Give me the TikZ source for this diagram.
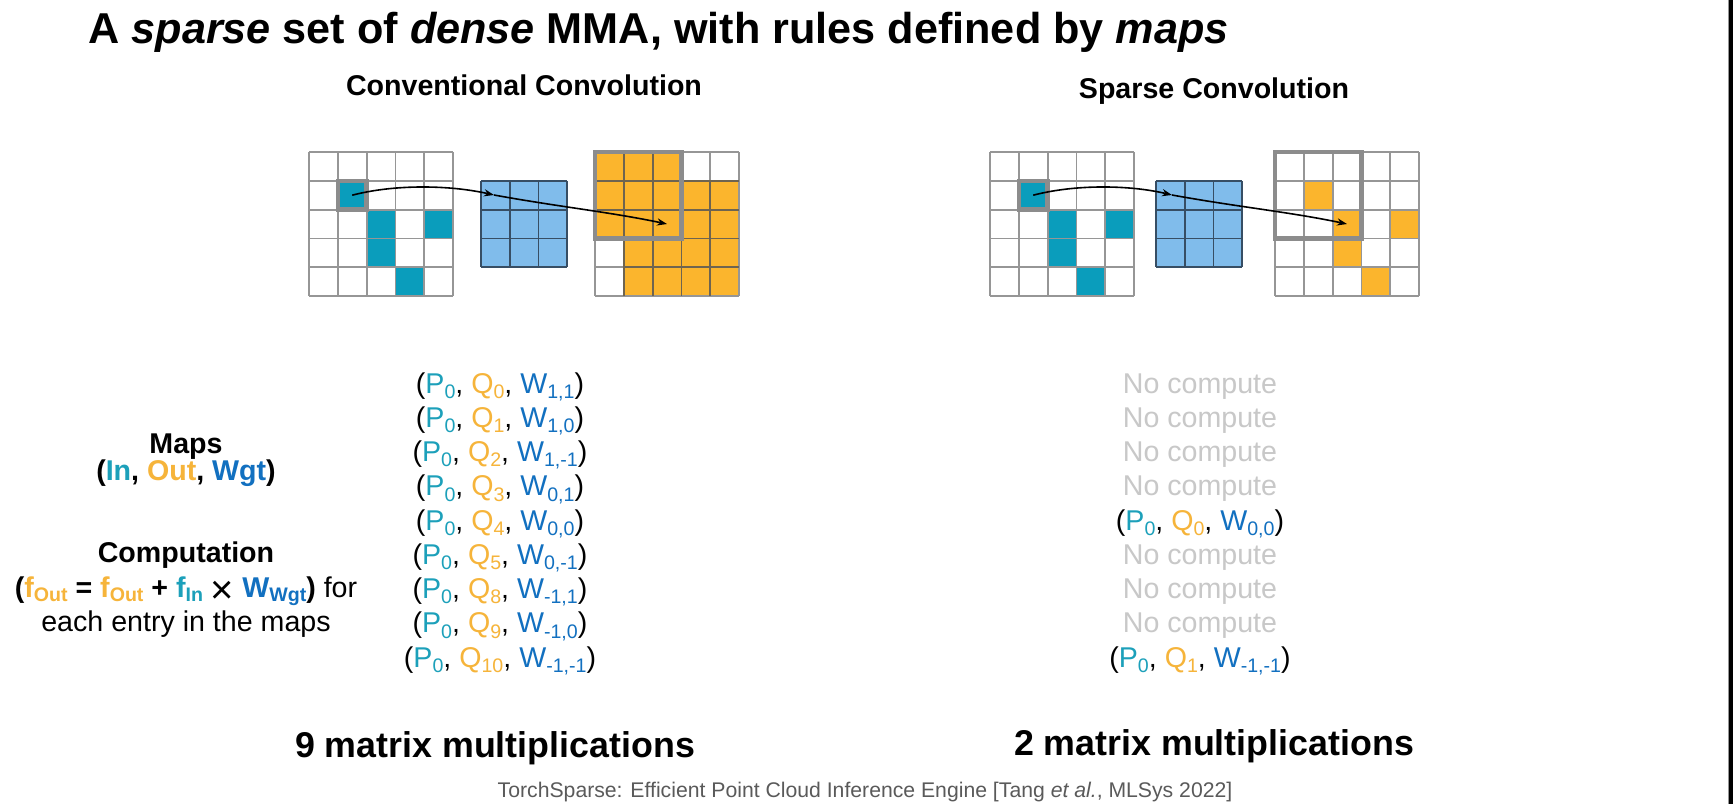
\documentclass[tikz,border=0pt]{standalone}
\usepackage{fontspec}
\setmainfont{Liberation Sans}
\usetikzlibrary{arrows.meta}
\definecolor{tealc}{RGB}{10,157,188}
\definecolor{tealt}{RGB}{28,160,186}
\definecolor{orac}{RGB}{251,181,45}
\definecolor{orat}{RGB}{246,180,58}
\definecolor{kblue}{RGB}{128,188,235}
\definecolor{kline}{RGB}{55,78,100}
\definecolor{bluet}{RGB}{18,112,192}
\definecolor{glc}{RGB}{150,150,150}
\definecolor{olc}{RGB}{110,100,80}
\definecolor{hlc}{RGB}{140,140,140}
\definecolor{nocomp}{RGB}{200,200,200}
\definecolor{footc}{RGB}{90,90,90}
\newcommand\fsz[1]{\fontsize{#1}{#1}\selectfont}
\newcommand\sbs[1]{\raisebox{-0.35ex}{\fsz{9.8}#1}}
\newcommand\fsbs[1]{\raisebox{-0.3ex}[\height][0pt]{\fsz{9.8}#1}}
\newcommand\mapentry[3]{(\textcolor{tealt}{P\sbs{#1}}, \textcolor{orat}{Q\sbs{#2}}, \textcolor{bluet}{W\sbs{#3}})}
\newcommand\nocompute{\textcolor{nocomp}{No compute}}
% cell helpers: x0 y0 col row colour
\newcommand\fillcell[5]{\fill[#5] ({#1+#3*28.8},{#2+#4*28.8}) rectangle +(28.8,28.8);}
\newcommand\gridfive[2]{%
  \foreach \i in {0,...,5} {
    \draw[gl] ({#1+\i*28.8},#2) -- ({#1+\i*28.8},{#2+144});
    \draw[gl] (#1,{#2+\i*28.8}) -- ({#1+144},{#2+\i*28.8});
  }}
\newcommand\kernel[2]{%
  \fill[kblue] (#1,#2) rectangle +(86.1,86.1);
  \foreach \i in {0,...,3} {
    \draw[kl] ({#1+\i*28.7},#2) -- ({#1+\i*28.7},{#2+86.1});
    \draw[kl] (#1,{#2+\i*28.7}) -- ({#1+86.1},{#2+\i*28.7});
  }}
\newcommand\inputgrid[2]{%
  \fillcell{#1}{#2}{1}{1}{tealc}
  \fillcell{#1}{#2}{2}{2}{tealc}
  \fillcell{#1}{#2}{4}{2}{tealc}
  \fillcell{#1}{#2}{2}{3}{tealc}
  \fillcell{#1}{#2}{3}{4}{tealc}
  \gridfive{#1}{#2}
  \draw[hl] ({#1+28.8},{#2+28.8}) rectangle +(28.8,28.8);}
\begin{document}
\begin{tikzpicture}[x=0.5pt,y=-0.5pt,
  gl/.style={draw=glc,line width=0.9pt},
  kl/.style={draw=kline,line width=0.9pt},
  hl/.style={draw=hlc,line width=2.2pt},
  arr/.style={black,line width=0.8pt,-{Stealth[length=5pt,width=3.6pt]}},
  txt/.style={inner sep=0pt,anchor=base},
  entry/.style={txt,font=\fsz{14.3}},
  bigb/.style={txt,font=\fsz{14.3}\bfseries}]
\useasboundingbox (0,0) rectangle (1733,804);
\fill[white] (0,0) rectangle (1733,804);
\fill[black] (1728,0) rectangle (1733,804);
\draw[glc,line width=0.5pt] (1728,0) -- (1728,804);

% title
\node[txt,anchor=base west,font=\fsz{21.6}\bfseries] (title) at (88,43)
  {A \textit{sparse} set of \textit{dense} MMA, with rules defined by \textit{maps}};
\node[bigb] (convt) at (524,95) {Conventional Convolution};
\node[bigb] (spt) at (1214,98) {Sparse Convolution};

% ---------- conventional convolution ----------
\inputgrid{309}{152}
\kernel{481}{181}
\foreach \c/\r in {0/0,1/0,2/0, 0/1,1/1,2/1,3/1,4/1, 0/2,1/2,2/2,3/2,4/2,
                   1/3,2/3,3/3,4/3, 1/4,2/4,3/4,4/4}
  {\fillcell{595}{152}{\c}{\r}{orac}}
\gridfive{595}{152}
\foreach \i in {1,2,3,4} {
  \draw[olc,line width=0.9pt] ({595+28.8},{152+\i*28.8}) -- ({595+144},{152+\i*28.8});
  \draw[olc,line width=0.9pt] ({595+\i*28.8},{152+28.8}) -- ({595+\i*28.8},{152+144});
}
\draw[olc,line width=0.9pt] (595,{152+28.8}) -- ({595+28.8},{152+28.8});
\draw[olc,line width=0.9pt] (595,{152+57.6}) -- ({595+28.8},{152+57.6});
\draw[olc,line width=0.9pt] ({595+28.8},152) -- ({595+28.8},{152+28.8});
\draw[olc,line width=0.9pt] ({595+57.6},152) -- ({595+57.6},{152+28.8});
\draw[hl] (595,152) rectangle +(86.4,86.4);
\coordinate (cin) at (352.2,195.2);
\coordinate (cker) at (494,195);
\coordinate (cout) at (667,224);
\draw[arr] (cin) .. controls (395,184) and (450,185) .. (cker);
\draw[arr] (cker) .. controls (560,207) and (610,212) .. (cout);

% ---------- sparse convolution ----------
\inputgrid{990}{152}
\kernel{1156}{181}
\foreach \c/\r in {1/1,2/2,4/2,2/3,3/4}
  {\fillcell{1275}{152}{\c}{\r}{orac}}
\gridfive{1275}{152}
\draw[hl] (1275,152) rectangle +(86.4,86.4);
\coordinate (sin) at (1033.2,195.2);
\coordinate (sker) at (1172,195);
\coordinate (sout) at (1347,224);
\draw[arr] (sin) .. controls (1076,184) and (1130,185) .. (sker);
\draw[arr] (sker) .. controls (1238,207) and (1290,212) .. (sout);

% ---------- left labels ----------
\node[bigb] (maps) at (186,453) {Maps};
\node[bigb] (iow) at (186,480) {(\textcolor{tealt}{In}, \textcolor{orat}{Out}, \textcolor{bluet}{Wgt})};
\node[bigb] (comp) at (186,562) {Computation};
\node[entry] (formula) at (186,597) {\textbf{(\textcolor{orat}{f\fsbs{Out}} = \textcolor{orat}{f\fsbs{Out}} + \textcolor{tealt}{f\fsbs{In}}} \raisebox{-0.45ex}[\height][0pt]{\fsz{20}×} \textbf{\textcolor{bluet}{W\fsbs{Wgt}})} for};
\node[entry] (each) at (186,631) {each entry in the maps};

% ---------- conventional maps ----------
\node[entry] (c1) at (500,393) {\mapentry{0}{0}{1,1}};
\node[entry] (c2) at (500,427.25) {\mapentry{0}{1}{1,0}};
\node[entry] (c3) at (500,461.5) {\mapentry{0}{2}{1,-1}};
\node[entry] (c4) at (500,495.75) {\mapentry{0}{3}{0,1}};
\node[entry] (c5) at (500,530) {\mapentry{0}{4}{0,0}};
\node[entry] (c6) at (500,564.25) {\mapentry{0}{5}{0,-1}};
\node[entry] (c7) at (500,598.5) {\mapentry{0}{8}{-1,1}};
\node[entry] (c8) at (500,632.75) {\mapentry{0}{9}{-1,0}};
\node[entry] (c9) at (500,667) {\mapentry{0}{10}{-1,-1}};

% ---------- sparse maps ----------
\node[entry] (s1) at (1200,393) {\nocompute};
\node[entry] (s2) at (1200,427.25) {\nocompute};
\node[entry] (s3) at (1200,461.5) {\nocompute};
\node[entry] (s4) at (1200,495.75) {\nocompute};
\node[entry] (s5) at (1200,530) {\mapentry{0}{0}{0,0}};
\node[entry] (s6) at (1200,564.25) {\nocompute};
\node[entry] (s7) at (1200,598.5) {\nocompute};
\node[entry] (s8) at (1200,632.75) {\nocompute};
\node[entry] (s9) at (1200,667) {\mapentry{0}{1}{-1,-1}};

% ---------- bottom ----------
\node[txt,font=\fsz{17.9}\bfseries] (nine) at (495,757) {9 matrix multiplications};
\node[txt,font=\fsz{17.9}\bfseries] (two) at (1214,755) {2 matrix multiplications};
\node[txt,font=\fsz{10.6},text=footc] (foot) at (865,797)
  {TorchSparse: Efficient Point Cloud Inference Engine [Tang \textit{et al.}, MLSys 2022]};
\end{tikzpicture}
\end{document}
